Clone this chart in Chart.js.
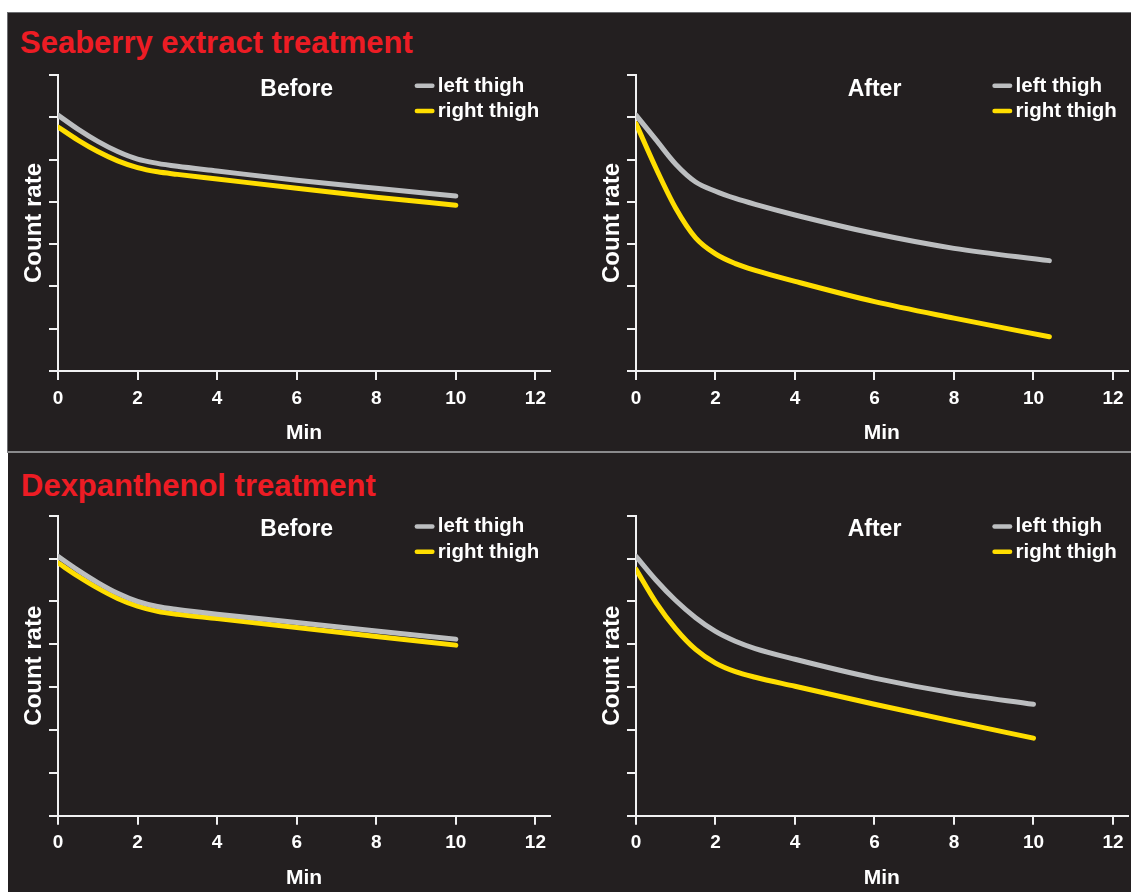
<!DOCTYPE html>
<html>
<head>
<meta charset="utf-8">
<script src="https://cdn.jsdelivr.net/npm/chart.js@4.4.1/dist/chart.umd.min.js"></script>
<style>
  body { margin: 0; background: #ffffff; width: 1131px; height: 892px; overflow: hidden; position: relative; font-family: 'Liberation Sans', Arial, sans-serif; }
  .panel { position: absolute; background: #231f20; box-sizing: border-box; }
  #panelTop { left: 7px; top: 12px; width: 1124px; height: 441px; border-top: 1px solid #6d6e71; border-left: 1px solid #6d6e71; border-bottom: 2px solid #8a8a8c; }
  #panelBottom { left: 8px; top: 453px; width: 1123px; height: 439px; }
  .section { position: absolute; color: #ed1c24; font-weight: bold; font-size: 31px; line-height: 31px; white-space: nowrap; }
  canvas { position: absolute; }
</style>
</head>
<body>
<div class="panel" id="panelTop"></div>
<div class="panel" id="panelBottom"></div>
<div class="section" style="left:20px; top:27px;">Seaberry extract treatment</div>
<div class="section" style="left:21px; top:470px;">Dexpanthenol treatment</div>
<canvas id="c1" width="546" height="440" style="left:7px; top:12px;"></canvas>
<canvas id="c2" width="546" height="440" style="left:585px; top:12px;"></canvas>
<canvas id="c3" width="546" height="438" style="left:7px; top:454px;"></canvas>
<canvas id="c4" width="546" height="438" style="left:585px; top:454px;"></canvas>
<script>
// Time points (min) and count rate readings (arbitrary units, axis 0-7)
const minutes = [0, 0.5, 1, 1.5, 2, 2.5, 3, 4, 6, 8, 10];
const minutesLong = [0, 0.5, 1, 1.5, 2, 2.5, 3, 4, 6, 8, 10.4];

// Seaberry extract treatment
const seaBeforeLeft  = [6.05, 5.72, 5.43, 5.19, 5.01, 4.91, 4.84, 4.73, 4.51, 4.32, 4.14];
const seaBeforeRight = [5.77, 5.46, 5.19, 4.97, 4.81, 4.71, 4.65, 4.54, 4.32, 4.11, 3.92];
const seaAfterLeft   = [6.05, 5.47, 4.89, 4.47, 4.25, 4.08, 3.94, 3.69, 3.25, 2.90, 2.61];
const seaAfterRight  = [5.85, 4.80, 3.85, 3.15, 2.77, 2.54, 2.38, 2.12, 1.64, 1.25, 0.81];

// Dexpanthenol treatment
const dexBeforeLeft  = [6.05, 5.73, 5.44, 5.19, 5.00, 4.88, 4.81, 4.70, 4.51, 4.31, 4.12];
const dexBeforeRight = [5.90, 5.59, 5.31, 5.07, 4.89, 4.77, 4.70, 4.60, 4.39, 4.18, 3.98];
const dexAfterLeft   = [6.05, 5.50, 5.02, 4.62, 4.30, 4.07, 3.90, 3.65, 3.21, 2.86, 2.60];
const dexAfterRight  = [5.75, 4.98, 4.36, 3.88, 3.56, 3.36, 3.23, 3.02, 2.60, 2.20, 1.81];

const xTicks = [0, 2, 4, 6, 8, 10, 12];
const seriesNames = ['left thigh', 'right thigh'];

const GRAY = '#bcbec0';
const YELLOW = '#ffde00';
const AXIS = '#f1f1f2';
const X_MAX = 12.37;

Chart.defaults.font.family = "'Liberation Sans', Arial, sans-serif";
Chart.defaults.font.weight = 'bold';
Chart.defaults.color = '#ffffff';

// Draws the "Before"/"After" heading and the line legend inside each panel
const panelLabels = {
  id: 'panelLabels',
  afterDraw(chart, args, opts) {
    const ctx = chart.ctx;
    const area = chart.chartArea;
    const xs = chart.scales.x;
    ctx.save();
    ctx.fillStyle = '#ffffff';
    ctx.font = "bold 23px 'Liberation Sans', Arial, sans-serif";
    ctx.textAlign = 'center';
    ctx.textBaseline = 'alphabetic';
    ctx.fillText(opts.title, xs.getPixelForValue(6), area.top + 20.7);

    ctx.font = "bold 20.5px 'Liberation Sans', Arial, sans-serif";
    ctx.textAlign = 'left';
    const x0 = xs.getPixelForValue(8.97);
    chart.data.datasets.forEach((ds, i) => {
      const y = area.top + 10.7 + i * 25.3;
      ctx.strokeStyle = ds.borderColor;
      ctx.lineWidth = 4.5;
      ctx.lineCap = 'round';
      ctx.beginPath();
      ctx.moveTo(x0 + 2, y);
      ctx.lineTo(x0 + 17.5, y);
      ctx.stroke();
      ctx.fillText(ds.label, x0 + 23, y + 6);
    });
    ctx.restore();
  }
};

function makePanel(id, mins, leftVals, rightVals, title, padTop, padBottom, padRight) {
  const line = (vals, color, i) => ({
    label: seriesNames[i],
    data: mins.map((m, k) => ({ x: m, y: vals[k] })),
    borderColor: color,
    backgroundColor: color,
    borderWidth: 5,
    borderCapStyle: 'round',
    borderJoinStyle: 'round',
    pointRadius: 0,
    cubicInterpolationMode: 'monotone',
    fill: false
  });

  return new Chart(document.getElementById(id), {
    type: 'line',
    data: {
      datasets: [line(leftVals, GRAY, 0), line(rightVals, YELLOW, 1)]
    },
    options: {
      responsive: false,
      animation: false,
      layout: { padding: { left: 0, top: padTop, right: padRight, bottom: padBottom } },
      scales: {
        x: {
          type: 'linear',
          min: 0,
          max: X_MAX,
          afterFit: (s) => { s.height = 75; },
          afterBuildTicks: (s) => { s.ticks = xTicks.map(v => ({ value: v })); },
          ticks: {
            includeBounds: false,
            autoSkip: false,
            maxRotation: 0,
            padding: 7,
            color: '#ffffff',
            font: { size: 19, weight: 'bold' }
          },
          grid: { drawOnChartArea: false, drawTicks: true, tickLength: 9, color: AXIS, lineWidth: 2 },
          border: { display: true, color: AXIS, width: 2 },
          title: {
            display: true,
            text: 'Min',
            color: '#ffffff',
            font: { size: 21, weight: 'bold' },
            padding: { top: 0, bottom: 0 }
          }
        },
        y: {
          min: 0,
          max: 7,
          afterFit: (s) => { s.width = 51; },
          ticks: { stepSize: 1, display: false },
          grid: { drawOnChartArea: false, drawTicks: true, tickLength: 9, color: AXIS, lineWidth: 2 },
          border: { display: true, color: AXIS, width: 2 },
          title: {
            display: true,
            text: 'Count rate',
            color: '#ffffff',
            font: { size: 24, weight: 'bold' },
            padding: { top: 13, bottom: 0 }
          }
        }
      },
      plugins: {
        legend: { display: false },
        tooltip: { enabled: false },
        panelLabels: { title: title }
      }
    },
    plugins: [panelLabels]
  });
}

makePanel('c1', minutes, seaBeforeLeft, seaBeforeRight, 'Before', 63, 6, 1.4);
makePanel('c2', minutesLong, seaAfterLeft, seaAfterRight, 'After', 63, 6, 3.3);
makePanel('c3', minutes, dexBeforeLeft, dexBeforeRight, 'Before', 61.7, 1.3, 1.4);
makePanel('c4', minutes, dexAfterLeft, dexAfterRight, 'After', 61.7, 1.3, 3.3);
</script>
</body>
</html>
